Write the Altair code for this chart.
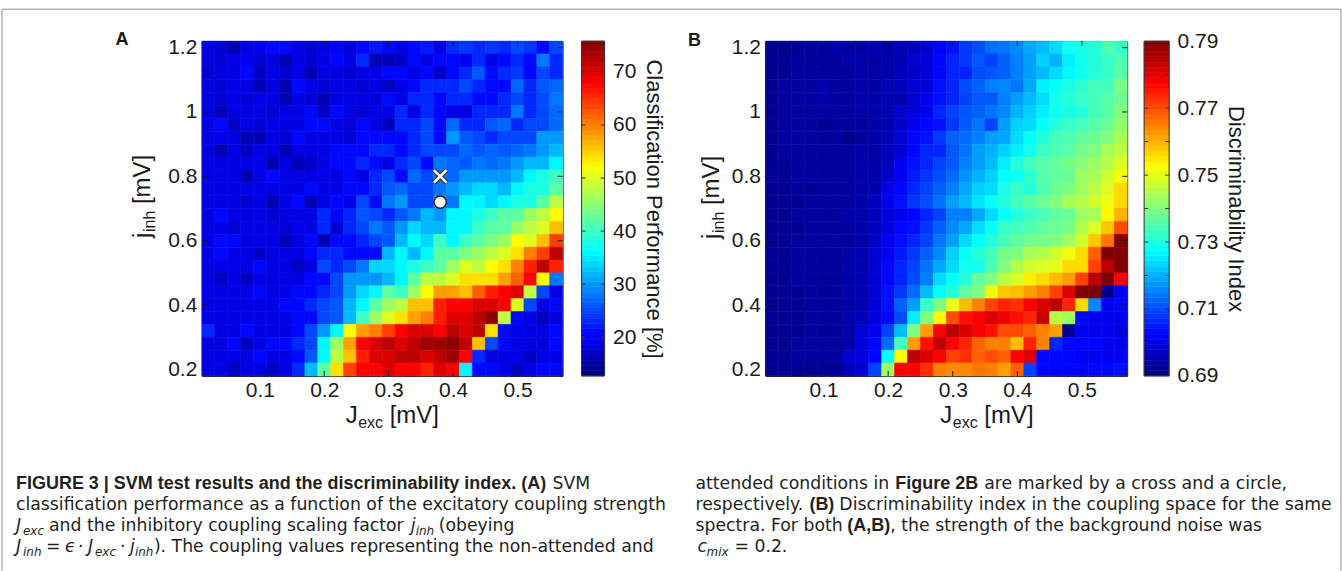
import altair as alt
import pandas as pd

# ---------------- data ----------------
J_EXC = [0.02, 0.04, 0.06, 0.08, 0.10, 0.12, 0.14, 0.16, 0.18, 0.20, 0.22, 0.24, 0.26, 0.28,
         0.30, 0.32, 0.34, 0.36, 0.38, 0.40, 0.42, 0.44, 0.46, 0.48, 0.50, 0.52, 0.54, 0.56]
J_INH = [1.20, 1.16, 1.12, 1.08, 1.04, 1.00, 0.96, 0.92, 0.88, 0.84, 0.80, 0.76, 0.72,
         0.68, 0.64, 0.60, 0.56, 0.52, 0.48, 0.44, 0.40, 0.36, 0.32, 0.28, 0.24, 0.20]

# Panel A: SVM classification performance [%], one list per j_inh row (top -> bottom)
PERF_R00 = [19,18,16,19,20,21,21,19,18,19,20,18,21,22,21,19,21,22,19,23,24,23,24,23,25,24,21,25]
PERF_R01 = [19,18,19,20,18,19,16,19,18,19,21,19,23,16,16,17,21,19,21,21,20,23,19,21,23,21,28,23]
PERF_R02 = [18,19,19,21,17,19,18,19,16,19,19,18,19,19,21,21,19,21,17,21,23,26,21,23,24,21,25,23]
PERF_R03 = [19,18,19,19,16,19,16,21,19,18,19,19,18,19,17,19,21,23,23,23,25,23,21,21,27,23,26,27]
PERF_R04 = [19,18,19,18,19,19,16,19,18,16,19,19,19,18,21,19,23,23,21,23,23,21,21,23,25,23,25,28]
PERF_R05 = [19,16,19,19,19,18,19,19,21,17,21,19,18,19,19,23,19,23,21,19,19,23,23,23,28,23,25,27]
PERF_R06 = [19,21,17,19,18,19,19,19,21,21,19,18,21,19,17,23,23,25,21,27,23,23,26,27,23,25,25,27]
PERF_R07 = [19,19,19,16,16,19,18,21,19,19,19,18,21,21,21,21,23,25,21,30,26,25,23,25,25,25,30,30]
PERF_R08 = [19,16,19,17,19,19,16,19,19,19,21,21,21,23,23,21,23,25,25,25,27,26,27,26,27,28,30,32]
PERF_R09 = [19,19,19,19,19,16,19,16,17,19,21,21,23,21,19,23,25,21,28,27,26,28,27,28,30,32,32,36]
PERF_R10 = [19,19,19,16,19,21,19,19,19,19,19,21,19,23,25,21,27,25,28,27,30,30,30,30,32,36,38,40]
PERF_R11 = [19,19,19,19,19,19,19,19,21,19,19,21,21,23,26,27,25,25,28,30,32,34,34,32,36,38,38,42]
PERF_R12 = [19,19,19,18,19,16,19,21,16,19,21,19,25,21,28,30,25,25,30,28,36,36,34,36,38,38,42,48]
PERF_R13 = [19,21,19,19,19,18,19,19,19,23,21,23,26,25,23,26,28,32,30,36,36,38,40,42,42,46,48,52]
PERF_R14 = [19,19,18,19,19,19,18,19,19,23,18,23,25,28,26,30,34,32,32,36,36,40,42,42,46,48,50,56]
PERF_R15 = [19,21,21,19,19,19,16,19,21,16,21,21,23,25,26,32,36,34,40,36,40,42,44,46,52,50,56,64]
PERF_R16 = [19,21,19,19,17,19,19,19,21,23,23,21,21,21,32,36,32,36,42,42,44,46,48,50,54,60,64,72]
PERF_R17 = [19,19,19,19,21,19,19,17,19,25,23,25,28,34,34,36,38,40,42,46,50,48,52,54,60,66,72,66]
PERF_R18 = [19,17,19,17,19,19,19,19,21,21,25,30,30,30,32,36,42,48,48,50,54,54,54,58,62,68,52,28]
PERF_R19 = [19,19,19,19,21,19,19,21,21,23,25,30,34,36,42,40,46,52,58,58,56,62,66,68,70,48,25,19]
PERF_R20 = [19,19,19,19,19,19,21,21,23,25,26,32,36,42,46,48,56,56,66,68,68,70,70,68,50,25,19,21]
PERF_R21 = [19,19,19,19,19,19,19,21,21,25,26,32,40,46,50,54,58,60,66,70,70,72,75,48,21,19,17,19]
PERF_R22 = [23,19,19,21,19,19,19,21,25,30,36,52,58,60,64,68,70,70,68,72,70,72,54,21,19,19,19,21]
PERF_R23 = [19,19,21,17,19,21,21,23,25,36,46,58,68,70,72,70,72,74,74,75,72,56,25,21,19,19,19,21]
PERF_R24 = [19,19,19,19,21,19,19,21,26,36,48,56,66,70,70,72,72,70,72,74,68,23,19,19,19,17,19,19]
PERF_R25 = [19,19,17,19,19,17,19,23,32,42,54,64,68,68,70,68,68,66,70,68,36,21,21,19,17,19,21,21]

# Panel B: discriminability index, one list per j_inh row (top -> bottom)
DISC_R00 = [.692,.692,.692,.693,.693,.694,.693,.694,.695,.694,.695,.696,.698,.702,.704,.708,.710,.713,.714,.716,.719,.721,.724,.729,.730,.731,.735,.733]
DISC_R01 = [.692,.692,.693,.693,.693,.693,.694,.694,.694,.694,.695,.698,.699,.703,.706,.708,.711,.709,.712,.715,.718,.723,.720,.726,.729,.731,.733,.735]
DISC_R02 = [.692,.692,.693,.693,.693,.693,.693,.694,.694,.694,.696,.697,.699,.703,.706,.706,.710,.711,.712,.715,.718,.721,.724,.727,.729,.731,.733,.736]
DISC_R03 = [.692,.693,.693,.693,.694,.693,.693,.694,.694,.695,.696,.698,.699,.704,.706,.710,.712,.715,.716,.714,.719,.726,.728,.730,.732,.734,.734,.739]
DISC_R04 = [.692,.693,.693,.693,.694,.693,.693,.694,.694,.695,.694,.698,.701,.704,.706,.709,.711,.711,.715,.718,.721,.724,.729,.731,.733,.734,.736,.738]
DISC_R05 = [.692,.693,.693,.693,.693,.693,.693,.694,.694,.695,.698,.699,.701,.706,.709,.711,.712,.714,.716,.720,.723,.726,.729,.730,.731,.734,.736,.740]
DISC_R06 = [.692,.693,.693,.693,.692,.693,.693,.693,.694,.695,.697,.701,.703,.704,.708,.711,.714,.709,.718,.723,.724,.728,.731,.733,.734,.736,.738,.742]
DISC_R07 = [.692,.693,.693,.693,.693,.693,.691,.693,.694,.695,.698,.703,.704,.708,.712,.713,.715,.718,.719,.724,.728,.731,.734,.735,.737,.738,.740,.744]
DISC_R08 = [.692,.693,.693,.693,.693,.693,.693,.694,.694,.696,.698,.703,.706,.706,.711,.714,.718,.720,.723,.726,.729,.733,.735,.736,.739,.740,.744,.746]
DISC_R09 = [.692,.692,.693,.693,.693,.693,.693,.694,.694,.696,.701,.704,.706,.709,.711,.715,.718,.721,.726,.731,.734,.736,.737,.739,.741,.743,.745,.749]
DISC_R10 = [.693,.692,.693,.693,.693,.693,.693,.694,.694,.697,.701,.705,.708,.710,.713,.717,.720,.723,.728,.729,.732,.736,.737,.738,.743,.744,.748,.752]
DISC_R11 = [.692,.692,.693,.692,.693,.693,.693,.694,.695,.700,.703,.706,.709,.712,.715,.719,.723,.724,.730,.733,.731,.735,.738,.740,.743,.746,.749,.756]
DISC_R12 = [.692,.692,.692,.693,.693,.693,.693,.694,.696,.701,.704,.708,.710,.714,.718,.721,.725,.728,.731,.734,.736,.738,.740,.744,.745,.748,.751,.756]
DISC_R13 = [.692,.692,.693,.693,.693,.693,.694,.694,.696,.699,.701,.703,.706,.709,.715,.715,.719,.724,.728,.731,.733,.735,.737,.738,.743,.744,.753,.760]
DISC_R14 = [.692,.692,.692,.693,.693,.693,.693,.694,.696,.699,.703,.704,.708,.712,.716,.719,.724,.728,.733,.734,.735,.737,.738,.739,.745,.749,.758,.770]
DISC_R15 = [.692,.692,.693,.693,.693,.693,.693,.694,.697,.701,.704,.706,.709,.714,.718,.724,.728,.731,.734,.737,.739,.739,.740,.743,.748,.758,.766,.790]
DISC_R16 = [.692,.692,.693,.693,.693,.693,.694,.695,.698,.701,.705,.708,.712,.716,.723,.728,.731,.734,.739,.740,.744,.745,.748,.751,.756,.768,.790,.790]
DISC_R17 = [.692,.692,.693,.693,.693,.693,.694,.695,.698,.703,.706,.709,.714,.719,.724,.729,.729,.735,.740,.745,.748,.749,.750,.756,.756,.771,.784,.790]
DISC_R18 = [.692,.692,.693,.693,.693,.693,.694,.695,.698,.703,.706,.710,.715,.724,.728,.731,.737,.740,.746,.749,.754,.756,.759,.762,.771,.784,.790,.778]
DISC_R19 = [.692,.692,.692,.693,.692,.693,.694,.695,.698,.704,.708,.713,.721,.728,.731,.737,.740,.751,.758,.759,.762,.765,.771,.781,.790,.790,.692,.701]
DISC_R20 = [.692,.692,.692,.693,.693,.693,.694,.695,.699,.704,.712,.718,.733,.740,.751,.759,.765,.771,.774,.773,.778,.781,.784,.774,.756,.716,.701,.703]
DISC_R21 = [.692,.692,.692,.693,.693,.693,.694,.696,.699,.703,.710,.726,.740,.753,.770,.776,.778,.781,.779,.776,.774,.783,.746,.743,.703,.701,.701,.701]
DISC_R22 = [.692,.692,.692,.693,.692,.693,.694,.698,.701,.709,.721,.740,.762,.778,.784,.781,.778,.776,.770,.770,.768,.765,.762,.692,.701,.701,.701,.699]
DISC_R23 = [.692,.692,.693,.693,.693,.693,.694,.699,.703,.713,.734,.762,.776,.784,.778,.774,.768,.765,.765,.759,.774,.765,.706,.703,.703,.703,.701,.701]
DISC_R24 = [.692,.692,.693,.693,.693,.693,.698,.699,.703,.728,.753,.784,.781,.778,.771,.773,.768,.770,.768,.778,.781,.703,.703,.703,.701,.701,.701,.701]
DISC_R25 = [.692,.692,.692,.692,.692,.692,.696,.698,.709,.743,.778,.778,.773,.765,.764,.764,.766,.765,.762,.768,.709,.703,.703,.703,.703,.703,.703,.704]

PERF_ROWS = [PERF_R00, PERF_R01, PERF_R02, PERF_R03, PERF_R04, PERF_R05, PERF_R06, PERF_R07,
             PERF_R08, PERF_R09, PERF_R10, PERF_R11, PERF_R12, PERF_R13, PERF_R14, PERF_R15,
             PERF_R16, PERF_R17, PERF_R18, PERF_R19, PERF_R20, PERF_R21, PERF_R22, PERF_R23,
             PERF_R24, PERF_R25]
DISC_ROWS = [DISC_R00, DISC_R01, DISC_R02, DISC_R03, DISC_R04, DISC_R05, DISC_R06, DISC_R07,
             DISC_R08, DISC_R09, DISC_R10, DISC_R11, DISC_R12, DISC_R13, DISC_R14, DISC_R15,
             DISC_R16, DISC_R17, DISC_R18, DISC_R19, DISC_R20, DISC_R21, DISC_R22, DISC_R23,
             DISC_R24, DISC_R25]

X_TICKS = [0.1, 0.2, 0.3, 0.4, 0.5]
Y_TICKS = [0.2, 0.4, 0.6, 0.8, 1.0, 1.2]
PERF_RANGE = [12.7, 75.8]
PERF_TICKS = [20, 30, 40, 50, 60, 70]
DISC_RANGE = [0.69, 0.79]
DISC_TICKS = [0.69, 0.71, 0.73, 0.75, 0.77, 0.79]
DISC_MINOR = [0.70, 0.71, 0.72, 0.73, 0.74, 0.75, 0.76, 0.77, 0.78]
MARK_X = [0.38, 0.38]
MARK_Y = [0.80, 0.72]
MARK_KIND = ["cross", "circle"]

# ---------------- styling ----------------
FONT = "Liberation Sans"
CAPFONT = "DejaVu Sans"
INK = "#1a1a1a"
JET = ["#00007f", "#0000ff", "#007fff", "#00ffff", "#7fff7f",
       "#ffff00", "#ff7f00", "#ff0000", "#7f0000"]
W_A, W_B, H = 361, 362, 335
OX, OY = 201, 40          # page position of panel A plot area
XS = alt.Scale(domain=[0.01, 0.57], nice=False, zero=False)
YS = alt.Scale(domain=[0.18, 1.22], nice=False, zero=False)
AX_X = alt.Axis(values=X_TICKS, format=".1f", title=None, ticks=False, tickSize=0,
                domain=False, grid=False, labelPadding=4)
AX_Y = alt.Axis(values=Y_TICKS, format="~g", title=None, ticks=False, tickSize=0,
                domain=False, grid=False, labelPadding=5)
ONE = pd.DataFrame({"k": [0]})


def jet_scale(lo, hi):
    dom = [lo + (hi - lo) * k / 8 for k in range(9)]
    return alt.Scale(domain=dom, range=JET, interpolate="rgb", clamp=True)


def grid_df(rows):
    recs = []
    for jy, vals in zip(J_INH, rows):
        for jx, v in zip(J_EXC, vals):
            recs.append({"x0": jx - 0.01, "x1": jx + 0.01,
                         "y0": jy - 0.02, "y1": jy + 0.02, "val": v})
    return pd.DataFrame(recs)


def cbar_df(lo, hi, n=64):
    recs = []
    for i in range(n):
        a = lo + (hi - lo) * i / n
        b = lo + (hi - lo) * (i + 1) / n
        recs.append({"lo": a, "hi": b, "val": (a + b) / 2})
    return pd.DataFrame(recs)


def txt(text, px, py, size, weight="normal", style="normal", font=FONT,
        angle=0, align="left", color=INK):
    return alt.Chart(ONE).mark_text(
        text=text, font=font, fontSize=size, fontWeight=weight, fontStyle=style,
        angle=angle, align=align, baseline="alphabetic", color=color
    ).encode(x=alt.value(px - OX), y=alt.value(py - OY))


def panel(rows, rng, cb_ticks, cb_minor, cb_title, cb_fmt, W, cbx0, cbx1,
          with_markers, extra):
    lo, hi = rng
    cs = jet_scale(lo, hi)
    heat = alt.Chart(grid_df(rows)).mark_rect(strokeWidth=0.6).encode(
        x=alt.X("x0:Q", scale=XS, axis=AX_X),
        x2="x1:Q",
        y=alt.Y("y0:Q", scale=YS, axis=AX_Y),
        y2="y1:Q",
        color=alt.Color("val:Q", scale=cs, legend=None),
        stroke=alt.Stroke("val:Q", scale=cs, legend=None),
    )
    xt = pd.DataFrame({"x0": X_TICKS})
    yt = pd.DataFrame({"y0": Y_TICKS})
    rule = dict(color=INK, strokeWidth=1)
    xb = alt.Chart(xt).mark_rule(**rule).encode(
        x=alt.X("x0:Q", scale=XS, axis=AX_X), y=alt.value(H), y2=alt.value(H - 5))
    xtop = alt.Chart(xt).mark_rule(**rule).encode(
        x=alt.X("x0:Q", scale=XS, axis=AX_X), y=alt.value(0), y2=alt.value(5))
    yl = alt.Chart(yt).mark_rule(**rule).encode(
        y=alt.Y("y0:Q", scale=YS, axis=AX_Y), x=alt.value(0), x2=alt.value(5))
    yr = alt.Chart(yt).mark_rule(**rule).encode(
        y=alt.Y("y0:Q", scale=YS, axis=AX_Y), x=alt.value(W), x2=alt.value(W - 5))
    heat_layers = [heat, xb, xtop, yl, yr]
    if with_markers:
        mk = pd.DataFrame({"x0": MARK_X, "y0": MARK_Y, "kind": MARK_KIND})
        cross = mk[mk["kind"] == "cross"]
        circ = mk[mk["kind"] == "circle"]
        xpath = "M-1,-1L1,1M1,-1L-1,1"
        for sw, col in ((5, "#333333"), (2.6, "white")):
            heat_layers.append(alt.Chart(cross).mark_point(
                shape=xpath, size=160, filled=False, stroke=col, strokeWidth=sw, opacity=1
            ).encode(x=alt.X("x0:Q", scale=XS, axis=AX_X), y=alt.Y("y0:Q", scale=YS, axis=AX_Y)))
        heat_layers.append(alt.Chart(circ).mark_point(
            shape="circle", size=150, filled=True, fill="white", stroke="#111111",
            strokeWidth=1.3, opacity=1
        ).encode(x=alt.X("x0:Q", scale=XS, axis=AX_X), y=alt.Y("y0:Q", scale=YS, axis=AX_Y)))

    cys = alt.Scale(domain=[lo, hi], nice=False, zero=False)
    cax = alt.Axis(orient="right", offset=cbx1 - W, values=cb_ticks, format=cb_fmt,
                   title=cb_title, ticks=False, tickSize=0, domain=False, grid=False,
                   labelPadding=8, titlePadding=6, labelFlush=False)
    cbar = alt.Chart(cbar_df(lo, hi)).mark_rect(strokeWidth=0.6).encode(
        x=alt.value(cbx0), x2=alt.value(cbx1),
        y=alt.Y("lo:Q", scale=cys, axis=cax),
        y2="hi:Q",
        color=alt.Color("val:Q", scale=cs, legend=None),
        stroke=alt.Stroke("val:Q", scale=cs, legend=None),
    )
    ct = pd.DataFrame({"lo": cb_minor})
    cbl = alt.Chart(ct).mark_rule(color="#333333", strokeWidth=1).encode(
        y=alt.Y("lo:Q", scale=cys, axis=cax), x=alt.value(cbx0), x2=alt.value(cbx0 + 4))
    cbr = alt.Chart(ct).mark_rule(color="#333333", strokeWidth=1).encode(
        y=alt.Y("lo:Q", scale=cys, axis=cax), x=alt.value(cbx1), x2=alt.value(cbx1 - 4))
    cbo = alt.Chart(ONE).mark_rect(fillOpacity=0, stroke="#333333", strokeWidth=1).encode(
        x=alt.value(cbx0), x2=alt.value(cbx1), y=alt.value(0), y2=alt.value(H))

    return alt.layer(
        alt.layer(*heat_layers),
        alt.layer(cbar, cbl, cbr, cbo),
        *extra,
    ).resolve_scale(y="independent").properties(width=W, height=H)


# ---------------- free texts (page coordinates) ----------------
T = []
T.append(txt("A", 121, 44, 18, weight="bold", align="center"))
T.append(txt("B", 694, 45, 18, weight="bold", align="center"))
for x0 in (345, 940):
    T.append(txt("J", x0, 422, 24))
    T.append(txt("exc", x0 + 12.5, 427, 16))
    T.append(txt("[mV]", x0 + 44, 422, 24))
for bx, by in ((149, 237), (719, 238)):
    T.append(txt("j", bx, by, 24, angle=270))
    T.append(txt("inh", bx + 5, by - 6, 16, angle=270))
    T.append(txt("[mV]", bx, by - 34, 24, angle=270))
BORDER = "#8c8c8c"
T.append(alt.Chart(ONE).mark_rule(color=BORDER, strokeWidth=1).encode(
    x=alt.value(1 - OX), x2=alt.value(1341 - OX), y=alt.value(8 - OY)))
T.append(alt.Chart(ONE).mark_rule(color=BORDER, strokeWidth=1).encode(
    x=alt.value(1 - OX), y=alt.value(8 - OY), y2=alt.value(570 - OY)))
T.append(alt.Chart(ONE).mark_rule(color=BORDER, strokeWidth=1).encode(
    x=alt.value(1341 - OX), y=alt.value(8 - OY), y2=alt.value(570 - OY)))

# caption
CS, BS, SS = 17.3, 18, 12
CC = "#231f20"
L1, L2, L3, L4 = 488, 509, 530, 551


def reg(t, x, y):
    return txt(t, x, y, CS, font=CAPFONT, color=CC)


def bold(t, x, y):
    return txt(t, x, y, BS, weight="bold", font=FONT, color=CC)


def ital(t, x, y):
    return txt(t, x, y, CS, style="italic", font=CAPFONT, color=CC)


def sub(t, x, y):
    return txt(t, x, y + 4, SS, style="italic", font=CAPFONT, color=CC)


T += [
    bold("FIGURE 3 | SVM test results and the discriminability index. (A)", 15, L1),
    reg("SVM", 552, L1),
    reg("classification performance as a function of the excitatory coupling strength", 15, L2),
    ital("J", 15, L3), sub("exc", 22, L3),
    reg("and the inhibitory coupling scaling factor", 48, L3),
    ital("j", 410, L3), sub("inh", 415, L3),
    reg("(obeying", 438, L3),
    ital("J", 15, L4), sub("inh", 22, L4),
    reg("=", 45, L4), ital("\u03f5", 64, L4), reg("\u00b7", 77, L4),
    ital("J", 87, L4), sub("exc", 94, L4), reg("\u00b7", 119, L4),
    ital("j", 129, L4), sub("inh", 134, L4),
    reg("). The coupling values representing the non-attended and", 153, L4),
    reg("attended conditions in", 695, L1),
    bold("Figure 2B", 895, L1),
    reg("are marked by a cross and a circle,", 984, L1),
    reg("respectively.", 695, L2),
    bold("(B)", 809, L2),
    reg("Discriminability index in the coupling space for the same", 839, L2),
    reg("spectra. For both", 695, L3),
    bold("(A,B)", 847, L3),
    reg(", the strength of the background noise was", 890, L3),
    ital("c", 697, L4), sub("mix", 706, L4),
    reg("= 0.2.", 734, L4),
]

panelA = panel(PERF_ROWS, PERF_RANGE, PERF_TICKS, PERF_TICKS,
               "Classification Performance [%]", "d", W_A, 380, 403, True, T)
panelB = panel(DISC_ROWS, DISC_RANGE, DISC_TICKS, DISC_MINOR,
               "Discriminability Index", ".2f", W_B, 379, 404, False, [])

chart = alt.hconcat(panelA, panelB, spacing=765 - OX - W_A, bounds="flush").resolve_scale(
    x="independent", y="independent", color="independent", stroke="independent"
).configure_view(stroke=INK, strokeWidth=1).configure_axis(
    labelFont=FONT, labelFontSize=21, labelColor=INK,
    titleFont=FONT, titleFontSize=22, titleColor=INK, titleFontWeight="normal"
).properties(padding={"left": 1, "top": 8, "right": 0, "bottom": 0}, background="white")

chart.save("out.html", embed_options={"renderer": "svg", "actions": False})
